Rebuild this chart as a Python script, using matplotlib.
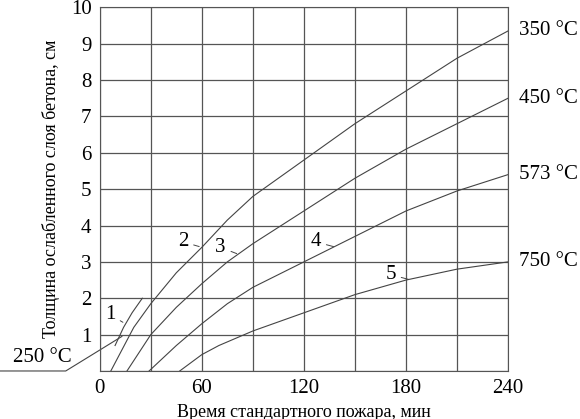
import matplotlib
matplotlib.use("Agg")
import matplotlib.pyplot as plt

plt.rcParams["font.family"] = ["Liberation Serif", "DejaVu Serif"]

# curve data: time (min), thickness (cm)
T1 = [9, 14, 19, 25]
D1 = [0.7, 1.2, 1.6, 2.0]
T2 = [6.5, 20, 30, 45, 60, 75, 90, 120, 150, 180, 210, 240]
D2 = [0.0, 1.2, 1.85, 2.7, 3.4, 4.15, 4.8, 5.8, 6.8, 7.7, 8.6, 9.35]
T3 = [16, 30, 45, 60, 75, 90, 120, 150, 180, 210, 240]
D3 = [0.0, 1.0, 1.75, 2.4, 3.0, 3.5, 4.4, 5.3, 6.1, 6.8, 7.5]
T4 = [29, 45, 60, 75, 90, 120, 150, 180, 210, 240]
D4 = [0.0, 0.7, 1.3, 1.85, 2.3, 3.0, 3.7, 4.4, 4.95, 5.4]
T5 = [47, 60, 70, 90, 120, 150, 180, 210, 240]
D5 = [0.0, 0.45, 0.7, 1.1, 1.6, 2.1, 2.5, 2.8, 3.0]
CURVES = [(T1, D1), (T2, D2), (T3, D3), (T4, D4), (T5, D5)]
TEMP_LABELS = ["350 °C", "450 °C", "573 °C", "750 °C"]

fig = plt.figure(figsize=(5.8, 4.19), dpi=100)
ax = fig.add_axes([0.172, 0.1146, 0.704, 0.868])

for t, d in CURVES:
    ax.plot(t, d, color="#444444", lw=0.8)

ax.set_xlim(0, 240)
ax.set_ylim(0, 10)
ax.set_xticks(range(0, 241, 30))
ax.set_xticklabels(["0", "", "60", "", "120", "", "180", "", "240"])
ax.set_yticks(range(0, 11))
ax.set_yticklabels([""] + [str(i) for i in range(1, 11)])
ax.tick_params(length=0, labelsize=15, pad=6)
ax.grid(True, color="#555555", lw=0.9)
for s in ax.spines.values():
    s.set_color("#555555")
ax.set_xlabel("Время стандартного пожара, мин", fontsize=13)
ax.set_ylabel("Толщина ослабленного слоя бетона, см", fontsize=13, labelpad=8)

# right-side temperature labels at curve ends
for (t, d), lab in zip(CURVES[1:], TEMP_LABELS):
    ax.annotate(lab, (t[-1], d[-1]), xytext=(8, 0), textcoords="offset points",
                fontsize=15, va="center", annotation_clip=False)

# numbered leaders
nums = [("1", (15, 1.3), (9, 1.55)), ("2", (60, 3.4), (52, 3.55)),
        ("3", (82, 3.2), (74, 3.4)), ("4", (139, 3.4), (130, 3.55)),
        ("5", (183, 2.5), (174, 2.65))]
for n, xy, txt in nums:
    ax.annotate(n, xy, xytext=txt, fontsize=15, ha="right", va="center",
                arrowprops=dict(arrowstyle="-", color="#444444", lw=0.7))

# 250 °C leader
ax.plot([-60, -20, 13], [0, 0, 0.95], color="#444444", lw=0.8, clip_on=False)
ax.text(-34, 0.12, "250 °C", fontsize=15, ha="center", va="bottom")

fig.savefig("out.png", dpi=100)
